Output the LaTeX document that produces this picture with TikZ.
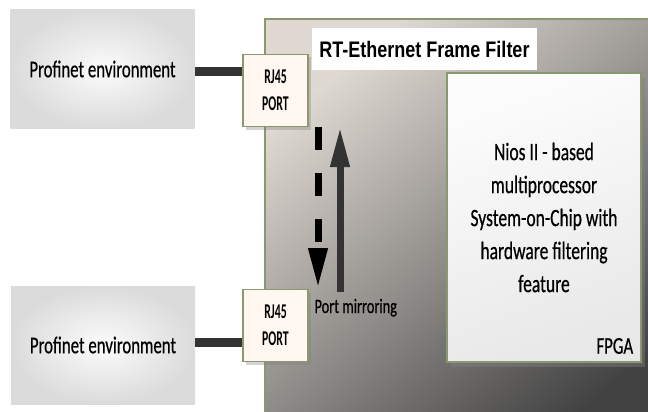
\documentclass[tikz,border=0pt]{standalone}
\usepackage{fontspec}
\setmainfont{Carlito}[FakeStretch=0.7,FakeBold=0.5]
\newfontfamily\titlefont{Liberation Sans}[FakeStretch=0.8]
\newfontfamily\portfont{Carlito}[FakeStretch=0.56]
\usepackage{tikz}
\usetikzlibrary{shadows}
\usetikzlibrary{arrows.meta,shapes}
\usetikzlibrary{calc}
\definecolor{framegreen}{HTML}{8A9870}
\definecolor{cablegray}{HTML}{333333}
\tikzstyle{envbox}=[rectangle,inner color=white!97!gray,outer color=black!14,minimum width=184pt,minimum height=118pt,inner sep=0pt,font=\fontsize{24}{28}\selectfont]
\tikzstyle{portbox}=[rectangle,draw=framegreen,line width=1.4pt,fill=white!94!orange,minimum width=65pt,minimum height=72pt,inner sep=0pt,align=center,font=\portfont\bfseries\fontsize{21}{27}\selectfont,drop shadow={shadow xshift=3pt,shadow yshift=-3pt,opacity=0.35}]
\tikzstyle{cable}=[draw=cablegray,line width=9pt]
\tikzstyle{mirror} = [line width=7pt,-{Triangle[width=18pt,length=40pt]}]
\tikzstyle{label} = [font=\fontsize{20.5}{24}\selectfont]

\begin{document}
\begin{tikzpicture}[x=1pt,y=-1pt]

   \useasboundingbox (0,0) rectangle (648,412);
   \clip (0,0) rectangle (648,412);

   % frame filter board
   \shade[top color=black!13!white!95!orange,middle color=black!30,bottom color=black!74,shading angle=40] (265,19) rectangle (680,440);
   \draw[framegreen,line width=1.5pt] (680,19) -- (265,19) -- (265,440);

   \node[fill=white,minimum width=225pt,minimum height=42pt,inner sep=0pt,font=\titlefont\bfseries\fontsize{22.5}{24}\selectfont] (title) at (424.5,49) {RT-Ethernet Frame Filter};

   \node[rectangle,draw=framegreen,line width=1.4pt,top color=white!98!gray,bottom color=black!9,shading angle=20,minimum width=194pt,minimum height=289pt,inner sep=0pt,drop shadow={shadow xshift=4pt,shadow yshift=-5pt,opacity=0.45}] (nios) at (544,217.5) {};
   \node[align=center,font=\fontsize{25}{33}\selectfont] (niostext) at (nios.center) {Nios II - based\\multiprocessor\\System-on-Chip with\\hardware filtering\\feature};
   \node[anchor=base east,font=\fontsize{24}{26}\selectfont] (fpga) at ([xshift=-5pt,yshift=9pt]nios.south east) {FPGA};

   % environments and ports
   \foreach \pos/ \name in {{(102.5,69)/1}, {(103,345)/2}}
        \node[envbox] (env\name) at \pos {Profinet environment};
   \foreach \pos/ \name in {{(275.5,90.5)/1}, {(275.5,325.5)/2}}
        \node[portbox] (port\name) at \pos {RJ45\\PORT};

   \foreach \name/ \sh in {1/-3,2/3}
        \draw[cable] ([yshift=\sh pt]env\name.east) -- ([yshift=\sh pt]env\name.east -| port\name.west);

   % port mirroring
   \coordinate (downstart) at (318,127);
   \coordinate (downend) at (318,288);
   \coordinate (upstart) at (340,292);
   \coordinate (upend) at (340,127);
   \draw[mirror,black,dash pattern=on 23pt off 23pt] (downstart) -- (downend);
   \draw[mirror,cablegray] (upstart) -- (upend);
   \node[label,anchor=base west] (mirrorlabel) at (311,313) {Port mirroring};

\end{tikzpicture}
\end{document}
